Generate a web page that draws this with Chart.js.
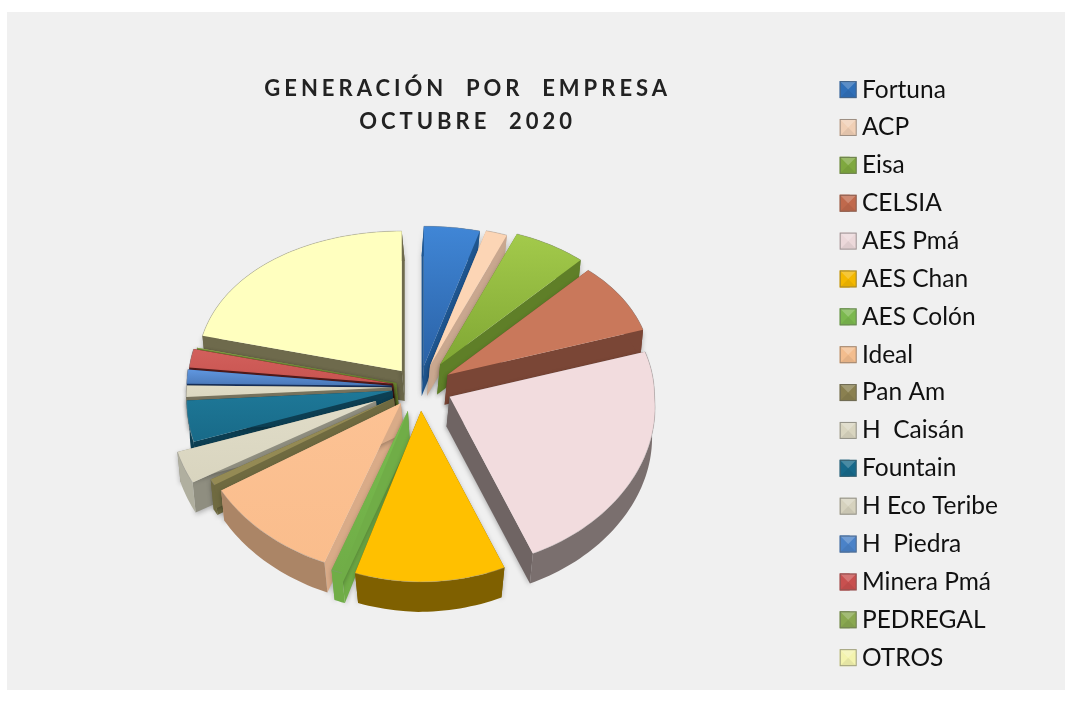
<!DOCTYPE html>
<html><head><meta charset="utf-8">
<style>html,body{margin:0;padding:0;background:#fff}canvas{display:block}</style>
<script src="https://cdn.jsdelivr.net/npm/chart.js@4"></script>
</head><body><canvas id="c" width="1072" height="702"></canvas>
<script>
const categories=["Fortuna","ACP","Eisa","CELSIA","AES Pmá","AES Chan","AES Colón","Ideal","Pan Am","H  Caisán","Fountain","H Eco Teribe","H  Piedra","Minera Pmá","PEDREGAL","OTROS"];
const shares=[4.4,1.7,5.9,8.1,23.6,11.1,0.8,10.3,0.6,3.2,4.2,1.2,1.5,2.0,0.05,21.2];
const titleLines=["GENERACIÓN  POR  EMPRESA","OCTUBRE  2020"];
const explode=[30,32,38,33,33,34,36,30,30,48,28,28,28,27,24,29];
const legendColors=["#2f6fb8","#f0cfb5","#7fa83f","#c0694c","#ecd8da","#f4b800","#7bb84e","#f3bd8e","#8a8050","#d9d5c0","#17698a","#d6d2be","#4a82c8","#c8504f","#8aa850","#f3f3ae"];
const topA=["#4086d6","#fcd5b5","#a3ca4b","#c9785b","#f2dcde","#ffc000","#78bc4e","#fcc294","#948a54","#e0dcc8","#1e7898","#e0dcc6","#6097e0","#d2605c","#9bbb59","#ffffbf"];
const topB=["#2a62a6","#fcd5b5","#80a734","#c9785b","#f2dcde","#ffc000","#70ad47","#fabd8c","#948a54","#d9d5bf","#186a88","#dbd7c1","#4a78b8","#c85450","#9bbb59","#ffffbf"];
const edgeCol=["#1f5690","#c9a78f","#5f7f28","#7a4636","#6f6463","#7f6000","#70ad47","#d9ab88","#6f6a40","#8f8e80","#0d3f53","#78745f","#17305a","#511a1a","#6a8030","#6e6a4c"];
const rimCol=["#1f5690","#c9a78f","#5f7f28","#7a4636","#7a6f6e","#7f6000","#70ad47","#ab8566","#6f6a40","#b0af9f","#0d3f53","#78745f","#17305a","#511a1a","#6a8030","#6e6a4c"];

const VX=415, DEPTH=30, RX=205, RYK=154, PERSP=0.1, SQ=0.7, FRONT=0.07;
const TITLE_SHIFT=55, LEGEND_SHIFT=50;
const gy=s=>RYK*s/(1-PERSP*s);

const pie3d={id:'pie3d',
 beforeDraw(chart){const c=chart.ctx;c.save();c.fillStyle='#fff';c.fillRect(0,0,chart.width,chart.height);c.fillStyle='#f0f0f0';c.fillRect(7,12,1058,678);c.restore();},
 afterLayout(chart){
  const t=chart.titleBlock; t.left+=48; t.right+=48; t.top+=TITLE_SHIFT; t.bottom+=TITLE_SHIFT;
  const l=chart.legend; l.top+=LEGEND_SHIFT; l.bottom+=LEGEND_SHIFT;
  if(!t._w){t._w=true;const d=t.draw;t.draw=function(){const c=this.ctx;c.save();c.letterSpacing='4px';d.call(this);c.restore();};}
 },
 beforeDatasetDraw(chart,args){
  const c=chart.ctx, arcs=args.meta.data;
  const order=arcs.map((a,i)=>i).sort((p,q)=>{
    const m=k=>Math.sin((arcs[k].startAngle+arcs[k].endAngle)/2);return m(p)-m(q);});
  const bot=p=>({x:p.x+Math.max(-3,Math.min(3,(VX-p.x)*0.25)),y:p.y+DEPTH});
  const poly=(pts,fill)=>{c.beginPath();pts.forEach((p,i)=>i?c.lineTo(p.x,p.y):c.moveTo(p.x,p.y));c.closePath();c.fillStyle=fill;c.fill();};
  order.forEach(i=>{
    const a=arcs[i], off=a.options.offset, mid=(a.startAngle+a.endAngle)/2;
    const ax=a.x+off*Math.cos(mid), ay=a.y+off*SQ*Math.sin(mid);
    const apex={x:ax,y:ay};
    const n=Math.max(2,Math.ceil((a.endAngle-a.startAngle)*40));
    const rim=[];
    for(let k=0;k<=n;k++){const t=a.startAngle+(a.endAngle-a.startAngle)*k/n;const s=Math.sin(t);
      rim.push({x:ax+RX*Math.cos(t)*(1+FRONT*Math.max(0,s)),y:ay+gy(s)});}
    c.save();
    c.shadowColor='rgba(0,0,0,0.28)';c.shadowBlur=5;c.shadowOffsetY=2;
    const first=rim[0], last=rim[rim.length-1];
    poly([apex,first,bot(first),bot(apex)],edgeCol[i]);
    poly([apex,last,bot(last),bot(apex)],edgeCol[i]);
    c.shadowColor='transparent';
    poly([...rim,...rim.slice().reverse().map(bot)],rimCol[i]);
    const ys=rim.map(p=>p.y).concat(ay);
    const g=c.createLinearGradient(0,Math.min(...ys),0,Math.max(...ys));
    g.addColorStop(0,topA[i]);g.addColorStop(1,topB[i]);
    poly([apex,...rim],g);
    c.beginPath();rim.forEach((p,k)=>k?c.lineTo(p.x,p.y):c.moveTo(p.x,p.y));
    c.strokeStyle='rgba(140,140,140,0.35)';c.lineWidth=1;c.stroke();
    c.restore();
  });
  return false;
 },
 afterDraw(chart){
  const c=chart.ctx, L=chart.legend, S=17;
  L.legendHitBoxes.forEach((h,i)=>{
    const x=h.left, y=h.top+(h.height-S)/2;
    c.save();
    c.fillStyle=legendColors[i];c.fillRect(x,y,S,S);
    c.beginPath();c.moveTo(x+1,y+1);c.lineTo(x+S-1,y+1);c.lineTo(x+S/2,y+S/2);c.closePath();
    c.fillStyle='rgba(255,255,255,0.22)';c.fill();
    c.beginPath();c.moveTo(x+1,y+S-1);c.lineTo(x+S-1,y+S-1);c.lineTo(x+S/2,y+S/2);c.closePath();
    c.fillStyle='rgba(0,0,0,0.06)';c.fill();
    c.strokeStyle='rgba(90,90,90,0.55)';c.lineWidth=1;c.strokeRect(x+.5,y+.5,S-1,S-1);
    c.restore();
  });
 }
};

new Chart(document.getElementById('c'),{
 type:'pie',
 data:{labels:categories,datasets:[{data:shares,backgroundColor:legendColors,borderWidth:0,offset:explode}]},
 plugins:[pie3d],
 options:{
  responsive:false,animation:false,radius:RX,rotation:0,
  layout:{padding:{left:13,right:64,top:14,bottom:14}},
  plugins:{
   tooltip:{enabled:false},
   title:{display:true,text:titleLines,fullSize:false,color:'#222',font:{family:'Lato',size:22,weight:'bold',lineHeight:1.5},padding:{top:3,bottom:3}},
   legend:{display:true,position:'right',align:'start',
    labels:{font:{family:'Lato',size:24.5},color:'#111',boxWidth:10,boxHeight:17,padding:13.37}}
  }
 }
});
</script></body></html>
